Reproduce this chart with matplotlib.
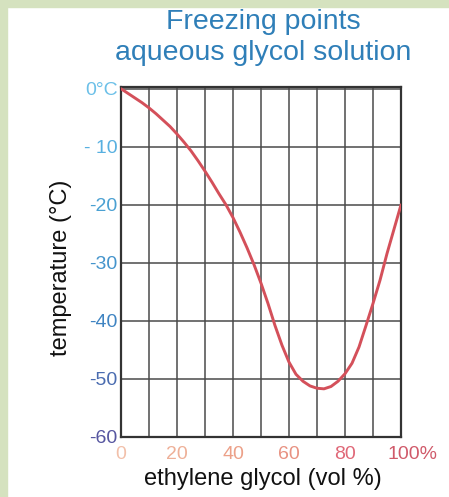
import numpy as np
import matplotlib.pyplot as plt

# freezing point (vol % glycol -> deg C)
glycol_pct = [0, 2.5, 5, 7.5, 10, 12.5, 15, 17.5, 20, 22.5, 25, 27.5, 30, 32.5, 35, 37.5,
              40, 42.5, 45, 47.5, 50, 52.5, 55, 57.5, 60, 62.5, 65, 67.5, 70, 72.5, 75,
              77.5, 80, 82.5, 85, 87.5, 90, 92.5, 95, 97.5, 100]
freeze_c = [0, -0.8, -1.6, -2.4, -3.3, -4.3, -5.4, -6.5, -7.8, -9.2, -10.7, -12.4, -14.2,
            -16.1, -18.1, -20.0, -22.2, -24.7, -27.4, -30.3, -33.5, -37.0, -40.8, -44.2,
            -47.1, -49.2, -50.4, -51.2, -51.6, -51.7, -51.3, -50.4, -49.1, -47.3, -44.5,
            -40.8, -37.0, -33.0, -28.4, -24.2, -20.0]

x_ticks = [0, 20, 40, 60, 80, 100]
x_labels = ['0', '20', '40', '60', '80', '100%']
x_colors = ['#f2c0aa', '#eeb098', '#eca088', '#e89282', '#e06878', '#d05a6a']
y_ticks = [0, -10, -20, -30, -40, -50, -60]
y_labels = ['0°C', '- 10', '-20', '-30', '-40', '-50', '-60']
y_colors = ['#6cc0e8', '#58b0e0', '#4aa0d2', '#4494cc', '#3f84c2', '#4a6cb0', '#5656a0']

plt.rcParams['font.family'] = ['Liberation Sans', 'DejaVu Sans']

fig = plt.figure(figsize=(4.49, 4.97), dpi=100)
fig.patch.set_facecolor('white')
# green frame on left and top
fig.add_artist(plt.Rectangle((0, 0), 7 / 449, 1, transform=fig.transFigure, color='#d5e2bf', zorder=0))
fig.add_artist(plt.Rectangle((0, 1 - 7 / 497), 1, 7 / 497, transform=fig.transFigure, color='#d5e2bf', zorder=0))

ax = fig.add_axes([121 / 449, 1 - 437 / 497, 280 / 449, 350 / 497])
ax.plot(glycol_pct, freeze_c, color='#d4505a', lw=2.1, solid_joinstyle='round',
        solid_capstyle='round', zorder=3)

ax.set_xlim(0, 100)
ax.set_ylim(-60, 0.3)
ax.set_xticks(np.arange(0, 101, 10))
ax.set_yticks(np.arange(-60, 1, 10))
ax.grid(True, color='#4a4a4a', lw=1.1)
ax.tick_params(length=0, labelleft=False, labelbottom=False)
for s in ax.spines.values():
    s.set_color('#333333')
    s.set_linewidth(1.6)

for v, lab, c in zip(y_ticks, y_labels, y_colors):
    ax.text(-1.2, v - 0.3, lab, color=c, fontsize=14, ha='right', va='center')
for v, lab, c in zip(x_ticks, x_labels, x_colors):
    xv = v + 4 if lab.endswith('%') else v
    ax.text(xv, -61.6, lab, color=c, fontsize=14, ha='center', va='top')

fig.text(263 / 449, 1 - 22 / 497, 'Freezing points', color='#2f7fb8', fontsize=20.5,
         ha='center', va='center')
fig.text(263 / 449, 1 - 53 / 497, 'aqueous glycol solution', color='#2f7fb8', fontsize=20.5,
         ha='center', va='center')
fig.text(61 / 449, 1 - 268 / 497, 'temperature (°C)', color='#111111', fontsize=17,
         rotation=90, ha='center', va='center')
fig.text(263 / 449, 1 - 479 / 497, 'ethylene glycol (vol %)', color='#111111', fontsize=17,
         ha='center', va='center')

fig.savefig('out.png', dpi=100)
